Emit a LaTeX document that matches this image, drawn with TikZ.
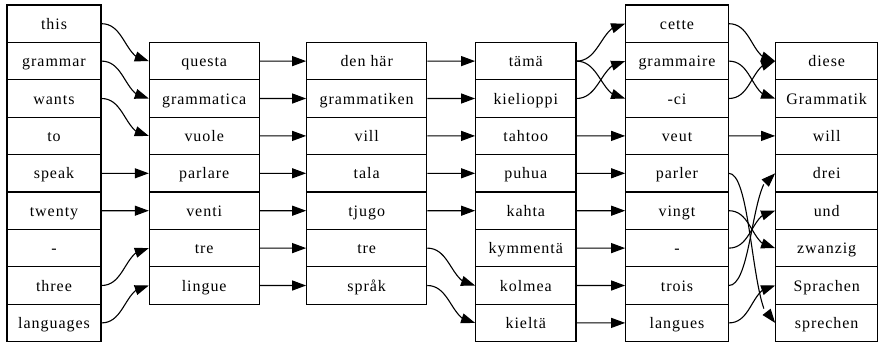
\documentclass[tikz,border=0pt]{standalone}
\usepackage{fontspec}
\setmainfont{Liberation Serif}[LetterSpace=6]
\usetikzlibrary{arrows.meta,bending}
\begin{document}
\begin{tikzpicture}[x=1pt,y=-1pt,
  cell/.style={draw,line width=1.1pt,rectangle,inner sep=0pt,minimum height=37.4pt,
    text height=11.2pt,text depth=0pt,
    font=\fontsize{16}{18}\selectfont},
  link/.style={line width=1.1pt,-{Triangle[length=14pt,width=10pt]}}]
\useasboundingbox (0,0) rectangle (888,346);
% English
\foreach \w [count=\i from 0] in {this,grammar,wants,to,speak,twenty,-,three,languages}
  \node[cell,minimum width=94pt] (en\i) at (54,{23.7+37.4*\i}) {\w};
% Italian
\foreach \w [count=\i from 1] in {questa,grammatica,vuole,parlare,venti,tre,lingue}
  \node[cell,minimum width=109.7pt] (it\i) at (204.2,{23.7+37.4*\i}) {\w};
% Swedish
\foreach \w [count=\i from 1] in {den här,grammatiken,vill,tala,tjugo,tre,språk}
  \node[cell,minimum width=120pt] (sv\i) at (366.7,{23.7+37.4*\i}) {\w};
% Finnish
\foreach \w [count=\i from 1] in {tämä,kielioppi,tahtoo,puhua,kahta,kymmentä,kolmea,kieltä}
  \node[cell,minimum width=100.3pt] (fi\i) at (525.8,{23.7+37.4*\i}) {\w};
% French
\foreach \w [count=\i from 0] in {cette,grammaire,-ci,veut,parler,vingt,-,trois,langues}
  \node[cell,minimum width=102.6pt] (fr\i) at (677,{23.7+37.4*\i}) {\w};
% German
\foreach \w [count=\i from 1] in {diese,Grammatik,will,drei,und,zwanzig,Sprachen,sprechen}
  \node[cell,minimum width=102pt] (de\i) at (826.7,{23.7+37.4*\i}) {\w};
% links
\foreach \a/\b in {en0/it1,en1/it2,en2/it3,en4/it4,en5/it5,en7/it6,en8/it7,
  it1/sv1,it2/sv2,it3/sv3,it4/sv4,it5/sv5,it6/sv6,it7/sv7,
  sv1/fi1,sv2/fi2,sv3/fi3,sv4/fi4,sv5/fi5,sv6/fi7,sv7/fi8,
  fi1/fr0,fi1/fr2,fi2/fr1,fi3/fr3,fi4/fr4,fi5/fr5,fi6/fr6,fi7/fr7,fi8/fr8,
  fr0/de1,fr1/de2,fr2/de1,fr3/de3,fr4/de8,fr5/de6,fr6/de5,fr7/de4,fr8/de7}
  \draw[link] (\a.east) .. controls +(24,0) and +(-24,0) .. (\b.west);
\end{tikzpicture}
\end{document}
